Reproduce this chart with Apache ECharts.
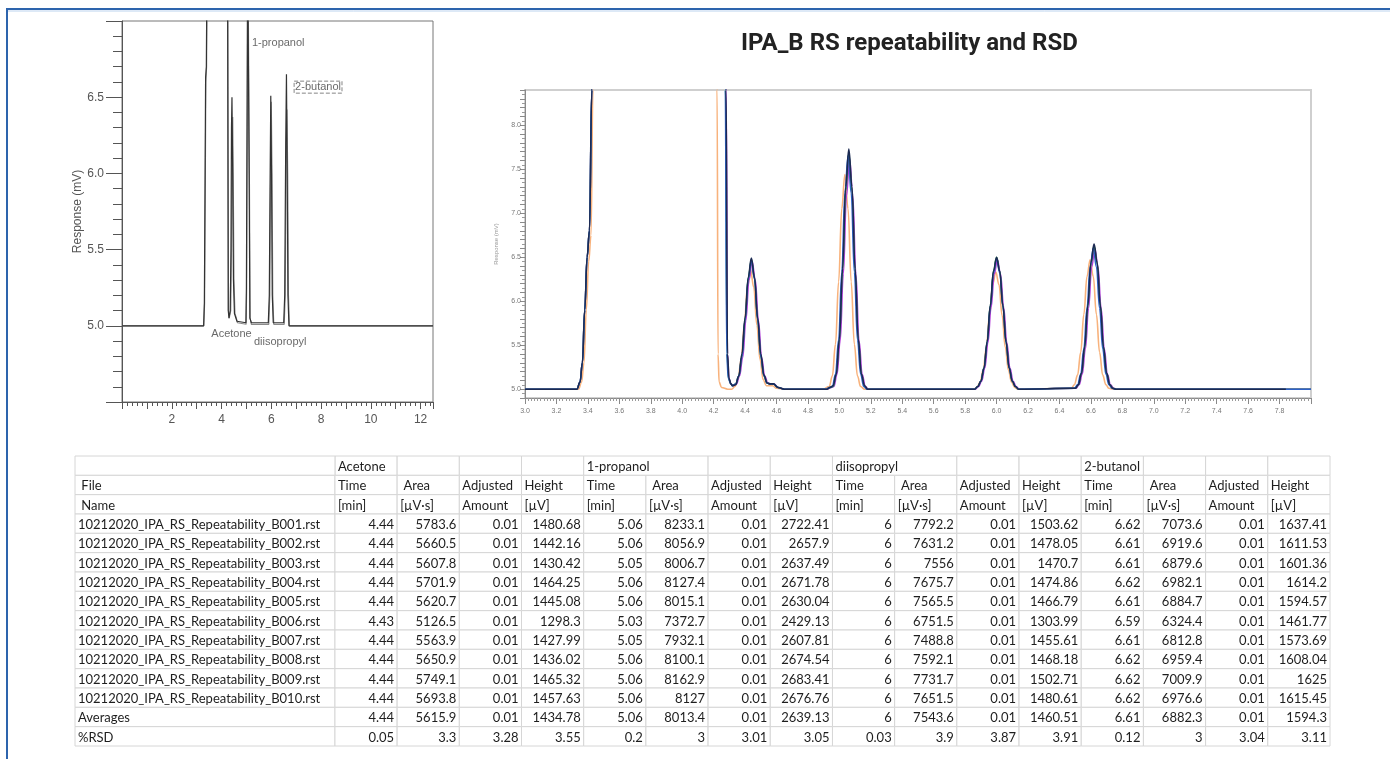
<!DOCTYPE html>
<html>
<head>
<meta charset="utf-8">
<title>IPA_B RS repeatability and RSD</title>
<script src="https://cdn.jsdelivr.net/npm/echarts@6/dist/echarts.min.js"></script>
<style>
  html, body { margin: 0; padding: 0; background: #fff; }
  #visualisation { width: 1390px; height: 759px; }
</style>
</head>
<body>
<div id="visualisation"></div>
<script>
// ---- overview chromatogram (left), two overlaid runs ----
const overviewA = [
  [0, 5.0], [3.28, 5.0], [3.31, 5.15], [3.34, 6.0], [3.36, 6.63], [3.39, 6.7], [3.42, 7.5],
  [4.24, 7.5], [4.27, 5.1], [4.3, 5.05], [4.35, 5.1], [4.38, 5.5], [4.4, 6.3], [4.42, 6.5],
  [4.45, 6.0], [4.48, 5.3], [4.52, 5.08], [4.56, 5.07], [4.62, 5.03], [4.7, 5.02],
  [4.98, 5.02], [5.0, 5.25], [5.03, 6.5], [5.05, 7.5], [5.09, 7.5], [5.11, 6.0], [5.14, 5.05],
  [5.2, 5.02], [5.88, 5.02], [5.92, 5.2], [5.95, 5.9], [5.98, 6.51], [6.01, 6.0], [6.04, 5.2],
  [6.08, 5.02], [6.5, 5.02], [6.54, 5.2], [6.58, 6.2], [6.61, 6.65], [6.64, 6.0], [6.67, 5.2],
  [6.71, 5.0], [12.5, 5.0]
];
const overviewB = [
  [0, 5.0], [3.29, 5.0], [3.32, 5.15], [3.35, 6.0], [3.37, 6.6], [3.4, 6.7], [3.43, 7.5],
  [4.25, 7.5], [4.28, 5.1], [4.31, 5.05], [4.37, 5.1], [4.4, 5.5], [4.43, 6.2], [4.45, 6.37],
  [4.47, 6.0], [4.5, 5.3], [4.54, 5.08], [4.58, 5.06], [4.64, 5.02], [4.7, 5.01],
  [4.99, 5.01], [5.01, 5.25], [5.04, 6.5], [5.06, 7.5], [5.1, 7.5], [5.12, 6.0], [5.15, 5.05],
  [5.2, 5.01], [5.9, 5.01], [5.94, 5.2], [5.97, 5.9], [6.0, 6.47], [6.03, 6.0], [6.06, 5.2],
  [6.1, 5.01], [6.52, 5.01], [6.56, 5.2], [6.6, 6.1], [6.63, 6.42], [6.66, 6.0], [6.69, 5.2],
  [6.73, 5.0], [12.5, 5.0]
];
const overviewLabels = [
  { name: '1-propanol', value: [6.28, 6.855] },
  { name: '2-butanol', value: [7.88, 6.566] },
  { name: 'Acetone', value: [4.4, 4.947] },
  { name: 'diisopropyl', value: [6.36, 4.895] }
];

// ---- zoomed overlay of the repeatability runs (right) ----
const runOrange = [
  [3.0, 5.0], [3.34, 5.0], [3.36, 5.08], [3.375, 5.3], [3.39, 5.9], [3.405, 6.45], [3.42, 6.75], [3.432, 8.4], [3.45, 9.6],
  [4.215, 9.6], [4.222, 8.4], [4.228, 5.4], [4.235, 5.08], [4.25, 5.02], [4.29, 5.0],
  [4.315, 5.0], [4.335, 5.03], [4.355, 5.11], [4.375, 5.34], [4.395, 5.73], [4.415, 6.16], [4.435, 6.35], [4.455, 6.16],
  [4.475, 5.73], [4.495, 5.34], [4.515, 5.11], [4.535, 5.04], [4.555, 5.04], [4.575, 5.04], [4.6, 5.01], [4.65, 5.0],
  [4.895, 5.0], [4.935, 5.03], [4.955, 5.15], [4.975, 5.51], [4.995, 6.22], [5.015, 7.05], [5.035, 7.44], [5.055, 7.05],
  [5.075, 6.22], [5.095, 5.51], [5.115, 5.15], [5.135, 5.03], [5.16, 5.0],
  [5.855, 5.0], [5.875, 5.02], [5.895, 5.08], [5.915, 5.22], [5.935, 5.48], [5.955, 5.84], [5.975, 6.19], [5.995, 6.33],
  [6.015, 6.19], [6.035, 5.84], [6.055, 5.48], [6.075, 5.22], [6.095, 5.08], [6.115, 5.02], [6.135, 5.0],
  [6.475, 5.01], [6.495, 5.05], [6.515, 5.16], [6.535, 5.42], [6.555, 5.85], [6.575, 6.28], [6.595, 6.47], [6.615, 6.28],
  [6.635, 5.85], [6.655, 5.42], [6.675, 5.16], [6.695, 5.05], [6.715, 5.01], [6.74, 5.0], [8.0, 5.0]
];
const runMagenta = [
  [3.0, 5.0], [3.33, 5.0], [3.35, 5.08], [3.365, 5.3], [3.38, 5.9], [3.395, 6.5], [3.41, 6.8], [3.425, 8.4], [3.44, 9.6],
  [4.272, 9.6], [4.28, 8.4], [4.288, 5.4], [4.298, 5.12], [4.31, 5.06],
  [4.325, 5.04], [4.345, 5.06], [4.365, 5.15], [4.385, 5.36], [4.405, 5.78], [4.425, 6.24], [4.445, 6.45], [4.465, 6.24],
  [4.485, 5.78], [4.505, 5.36], [4.525, 5.15], [4.545, 5.07], [4.565, 5.06], [4.585, 5.06], [4.61, 5.02], [4.65, 5.0],
  [4.925, 5.0], [4.945, 5.02], [4.965, 5.03], [4.985, 5.17], [5.005, 5.55], [5.025, 6.31], [5.045, 7.2], [5.065, 7.62],
  [5.085, 7.2], [5.105, 6.31], [5.125, 5.55], [5.145, 5.17], [5.165, 5.03], [5.185, 5.0],
  [5.865, 5.0], [5.885, 5.03], [5.905, 5.09], [5.925, 5.24], [5.945, 5.53], [5.965, 5.93], [5.985, 6.31], [6.005, 6.47],
  [6.025, 6.31], [6.045, 5.93], [6.065, 5.53], [6.085, 5.24], [6.105, 5.09], [6.125, 5.03], [6.145, 5.0],
  [6.505, 5.01], [6.525, 5.05], [6.545, 5.17], [6.565, 5.46], [6.585, 5.92], [6.605, 6.39], [6.625, 6.6], [6.645, 6.39],
  [6.665, 5.92], [6.685, 5.46], [6.705, 5.17], [6.725, 5.05], [6.745, 5.01], [6.765, 5.0], [8.0, 5.0]
];
const runGreen = [
  [3.0, 5.0], [3.33, 5.0], [3.35, 5.08], [3.365, 5.3], [3.38, 5.9], [3.395, 6.5], [3.41, 6.8], [3.425, 8.4], [3.44, 9.6],
  [4.268, 9.6], [4.276, 8.4], [4.285, 5.4], [4.295, 5.12], [4.31, 5.06],
  [4.32, 5.04], [4.34, 5.06], [4.36, 5.15], [4.38, 5.37], [4.4, 5.79], [4.42, 6.26], [4.44, 6.47], [4.46, 6.26],
  [4.48, 5.79], [4.5, 5.37], [4.52, 5.15], [4.54, 5.07], [4.56, 5.06], [4.58, 5.06], [4.61, 5.02], [4.65, 5.0],
  [4.92, 5.0], [4.94, 5.02], [4.96, 5.03], [4.98, 5.17], [5.0, 5.56], [5.02, 6.34], [5.04, 7.25], [5.06, 7.68],
  [5.08, 7.25], [5.1, 6.34], [5.12, 5.56], [5.14, 5.17], [5.16, 5.03], [5.18, 5.0],
  [5.86, 5.0], [5.88, 5.03], [5.9, 5.09], [5.92, 5.24], [5.94, 5.54], [5.96, 5.95], [5.98, 6.34], [6.0, 6.5],
  [6.02, 6.34], [6.04, 5.95], [6.06, 5.54], [6.08, 5.24], [6.1, 5.09], [6.12, 5.03], [6.14, 5.0],
  [6.5, 5.01], [6.52, 5.05], [6.54, 5.18], [6.56, 5.47], [6.58, 5.94], [6.6, 6.42], [6.62, 6.63], [6.64, 6.42],
  [6.66, 5.94], [6.68, 5.47], [6.7, 5.18], [6.72, 5.05], [6.74, 5.01], [6.76, 5.0], [8.0, 5.0]
];
const runBlue = [
  [3.0, 5.0], [3.33, 5.0], [3.35, 5.08], [3.365, 5.3], [3.38, 5.9], [3.395, 6.5], [3.41, 6.8], [3.425, 8.4], [3.44, 9.6],
  [4.266, 9.6], [4.274, 8.4], [4.283, 5.4], [4.293, 5.12], [4.31, 5.06],
  [4.32, 5.04], [4.34, 5.06], [4.36, 5.15], [4.38, 5.37], [4.4, 5.79], [4.42, 6.25], [4.44, 6.46], [4.46, 6.25],
  [4.48, 5.79], [4.5, 5.37], [4.52, 5.15], [4.54, 5.07], [4.56, 5.06], [4.58, 5.06], [4.61, 5.02], [4.65, 5.0],
  [4.915, 5.0], [4.935, 5.02], [4.955, 5.03], [4.975, 5.17], [4.995, 5.56], [5.015, 6.33], [5.035, 7.23], [5.055, 7.65],
  [5.075, 7.23], [5.095, 6.33], [5.115, 5.56], [5.135, 5.17], [5.155, 5.03], [5.175, 5.0],
  [5.86, 5.0], [5.88, 5.03], [5.9, 5.09], [5.92, 5.24], [5.94, 5.53], [5.96, 5.94], [5.98, 6.32], [6.0, 6.48],
  [6.02, 6.32], [6.04, 5.94], [6.06, 5.53], [6.08, 5.24], [6.1, 5.09], [6.12, 5.03], [6.14, 5.0],
  [6.495, 5.01], [6.515, 5.05], [6.535, 5.17], [6.555, 5.46], [6.575, 5.92], [6.595, 6.39], [6.615, 6.6], [6.635, 6.39],
  [6.655, 5.92], [6.675, 5.46], [6.695, 5.17], [6.715, 5.05], [6.735, 5.01], [6.755, 5.0], [8.0, 5.0]
];
const runNavy = [
  [3.0, 5.0], [3.33, 5.0], [3.35, 5.08], [3.365, 5.3], [3.38, 5.9], [3.395, 6.5], [3.41, 6.8], [3.425, 8.4], [3.44, 9.6],
  [4.27, 9.6], [4.279, 8.4], [4.288, 5.4], [4.298, 5.12], [4.31, 5.06],
  [4.32, 5.04], [4.34, 5.05], [4.36, 5.15], [4.38, 5.4], [4.4, 5.81], [4.42, 6.27], [4.44, 6.49], [4.46, 6.27],
  [4.48, 5.81], [4.5, 5.4], [4.52, 5.16], [4.54, 5.07], [4.56, 5.06], [4.58, 5.06], [4.61, 5.02], [4.65, 5.0],
  [4.92, 5.0], [4.94, 5.02], [4.96, 5.04], [4.98, 5.17], [5.0, 5.57], [5.02, 6.37], [5.04, 7.3], [5.06, 7.73],
  [5.08, 7.3], [5.1, 6.37], [5.12, 5.57], [5.14, 5.17], [5.16, 5.04], [5.18, 5.0],
  [5.86, 5.0], [5.88, 5.03], [5.9, 5.09], [5.92, 5.24], [5.94, 5.54], [5.96, 5.95], [5.98, 6.34], [6.0, 6.5],
  [6.02, 6.34], [6.04, 5.95], [6.06, 5.54], [6.08, 5.24], [6.1, 5.09], [6.12, 5.03], [6.14, 5.0],
  [6.5, 5.01], [6.52, 5.05], [6.54, 5.18], [6.56, 5.48], [6.58, 5.95], [6.6, 6.44], [6.62, 6.65], [6.64, 6.44],
  [6.66, 5.95], [6.68, 5.48], [6.7, 5.18], [6.72, 5.05], [6.74, 5.01], [6.76, 5.0], [7.84, 5.0]
];

// ---- results table ----
const compounds = ['Acetone', '1-propanol', 'diisopropyl', '2-butanol'];
const headerRow1 = ['Time', ' Area', 'Adjusted', 'Height'];
const headerRow2 = ['[min]', '[µV·s]', 'Amount', '[µV]'];
const fileNames = [
  '10212020_IPA_RS_Repeatability_B001.rst', '10212020_IPA_RS_Repeatability_B002.rst',
  '10212020_IPA_RS_Repeatability_B003.rst', '10212020_IPA_RS_Repeatability_B004.rst',
  '10212020_IPA_RS_Repeatability_B005.rst', '10212020_IPA_RS_Repeatability_B006.rst',
  '10212020_IPA_RS_Repeatability_B007.rst', '10212020_IPA_RS_Repeatability_B008.rst',
  '10212020_IPA_RS_Repeatability_B009.rst', '10212020_IPA_RS_Repeatability_B010.rst',
  'Averages', '%RSD'
];
// each: 10 runs, then Averages, then %RSD
const acetoneTime = [4.44, 4.44, 4.44, 4.44, 4.44, 4.43, 4.44, 4.44, 4.44, 4.44, 4.44, 0.05];
const acetoneArea = [5783.6, 5660.5, 5607.8, 5701.9, 5620.7, 5126.5, 5563.9, 5650.9, 5749.1, 5693.8, 5615.9, 3.3];
const acetoneAmount = [0.01, 0.01, 0.01, 0.01, 0.01, 0.01, 0.01, 0.01, 0.01, 0.01, 0.01, 3.28];
const acetoneHeight = [1480.68, 1442.16, 1430.42, 1464.25, 1445.08, 1298.3, 1427.99, 1436.02, 1465.32, 1457.63, 1434.78, 3.55];
const propanolTime = [5.06, 5.06, 5.05, 5.06, 5.06, 5.03, 5.05, 5.06, 5.06, 5.06, 5.06, 0.2];
const propanolArea = [8233.1, 8056.9, 8006.7, 8127.4, 8015.1, 7372.7, 7932.1, 8100.1, 8162.9, 8127, 8013.4, 3];
const propanolAmount = [0.01, 0.01, 0.01, 0.01, 0.01, 0.01, 0.01, 0.01, 0.01, 0.01, 0.01, 3.01];
const propanolHeight = [2722.41, 2657.9, 2637.49, 2671.78, 2630.04, 2429.13, 2607.81, 2674.54, 2683.41, 2676.76, 2639.13, 3.05];
const diisoTime = [6, 6, 6, 6, 6, 6, 6, 6, 6, 6, 6, 0.03];
const diisoArea = [7792.2, 7631.2, 7556, 7675.7, 7565.5, 6751.5, 7488.8, 7592.1, 7731.7, 7651.5, 7543.6, 3.9];
const diisoAmount = [0.01, 0.01, 0.01, 0.01, 0.01, 0.01, 0.01, 0.01, 0.01, 0.01, 0.01, 3.87];
const diisoHeight = [1503.62, 1478.05, 1470.7, 1474.86, 1466.79, 1303.99, 1455.61, 1468.18, 1502.71, 1480.61, 1460.51, 3.91];
const butanolTime = [6.62, 6.61, 6.61, 6.62, 6.61, 6.59, 6.61, 6.62, 6.62, 6.62, 6.61, 0.12];
const butanolArea = [7073.6, 6919.6, 6879.6, 6982.1, 6884.7, 6324.4, 6812.8, 6959.4, 7009.9, 6976.6, 6882.3, 3];
const butanolAmount = [0.01, 0.01, 0.01, 0.01, 0.01, 0.01, 0.01, 0.01, 0.01, 0.01, 0.01, 3.04];
const butanolHeight = [1637.41, 1611.53, 1601.36, 1614.2, 1594.57, 1461.77, 1573.69, 1608.04, 1625, 1615.45, 1594.3, 3.11];

const tableColumns = [
  acetoneTime, acetoneArea, acetoneAmount, acetoneHeight,
  propanolTime, propanolArea, propanolAmount, propanolHeight,
  diisoTime, diisoArea, diisoAmount, diisoHeight,
  butanolTime, butanolArea, butanolAmount, butanolHeight
];

function drawVisualisation() {
  let visualisation = echarts.init(document.getElementById('visualisation'));

  // file-name column is wider than the numeric ones (in column units)
  const FIRST_W = 4.18;
  const cells = [];
  // header row 0: compound names (long names spill into next cell, like Excel)
  let c = 0;
  while (c < 16) {
    const k = c / 4;
    if (c % 4 === 0) {
      const span = (k === 1 || k === 2) ? 2 : 1;
      cells.push({ x: FIRST_W + c, row: 0, span: span, text: compounds[k], align: 'left' });
      c += span;
    } else {
      cells.push({ x: FIRST_W + c, row: 0, span: 1, text: '', align: 'left' });
      c += 1;
    }
  }
  cells.push({ x: 0, row: 0, span: FIRST_W, text: '', align: 'left' });
  cells.push({ x: 0, row: 1, span: FIRST_W, text: ' File', align: 'left' });
  cells.push({ x: 0, row: 2, span: FIRST_W, text: ' Name', align: 'left' });
  for (let j = 0; j < 16; j++) {
    cells.push({ x: FIRST_W + j, row: 1, span: 1, text: headerRow1[j % 4], align: 'left' });
    cells.push({ x: FIRST_W + j, row: 2, span: 1, text: headerRow2[j % 4], align: 'left' });
  }
  fileNames.forEach((name, i) => {
    cells.push({ x: 0, row: 3 + i, span: FIRST_W, text: name, align: 'left' });
    tableColumns.forEach((col, j) => {
      cells.push({ x: FIRST_W + j, row: 3 + i, span: 1, text: String(col[i]), align: 'right' });
    });
  });

  const lineSeries = (data, color, width) => ({
    type: 'line', xAxisIndex: 1, yAxisIndex: 1, data: data,
    showSymbol: false, smooth: 0.4, smoothMonotone: 'x',
    lineStyle: { color: color, width: width }, silent: true
  });

  let option = {
    animation: false,
    title: {
      text: 'IPA_B RS repeatability and RSD',
      left: 736, top: 27,
      textStyle: { fontFamily: 'Roboto', fontWeight: 'bold', fontSize: 24, color: '#222' }
    },
    graphic: [
      { type: 'polyline', shape: { points: [[7, 759], [7, 9], [1390, 9]] }, style: { stroke: '#2d64ad', lineWidth: 2, fill: null } },
      { type: 'line', shape: { x1: 8, y1: 11, x2: 1390, y2: 11 }, style: { stroke: '#bcd3ee', lineWidth: 1 } }
    ],
    grid: [
      { left: 122, top: 21, width: 311, height: 381, show: true, borderColor: '#777', borderWidth: 1 },
      { left: 525, top: 90, width: 786, height: 308, show: true, borderColor: '#cfcfcf', borderWidth: 2 },
      { left: 75, top: 456, width: 1255, height: 290 }
    ],
    xAxis: [
      {
        gridIndex: 0, type: 'value', min: 0, max: 12.5, interval: 1,
        axisLine: { lineStyle: { color: '#555' } },
        axisTick: { length: 7, lineStyle: { color: '#555' } },
        minorTick: { show: true, splitNumber: 5, length: 4, lineStyle: { color: '#555' } },
        splitLine: { show: false },
        axisLabel: {
          showMaxLabel: false, margin: 12, color: '#555', fontSize: 12, fontFamily: 'Liberation Sans',
          formatter: v => (v > 0 && v % 2 === 0) ? String(v) : ''
        }
      },
      {
        gridIndex: 1, type: 'value', min: 3.0, max: 8.0, interval: 0.2,
        axisLine: { lineStyle: { color: '#8a8a8a' } },
        axisTick: { length: 6, lineStyle: { color: '#8a8a8a' } },
        minorTick: { show: true, splitNumber: 10, length: 3, lineStyle: { color: '#9a9a9a' } },
        splitLine: { show: false },
        axisLabel: {
          showMaxLabel: false, margin: 10, color: '#777', fontSize: 7, fontFamily: 'Liberation Sans',
          formatter: v => v.toFixed(1)
        }
      },
      { gridIndex: 2, type: 'value', min: 0, max: FIRST_W + 16, show: false }
    ],
    yAxis: [
      {
        gridIndex: 0, type: 'value', min: 4.5, max: 7.0, interval: 0.5,
        name: 'Response (mV)', nameLocation: 'middle', nameGap: 36,
        nameTextStyle: { color: '#555', fontSize: 12, fontFamily: 'Liberation Sans' },
        axisLine: { lineStyle: { color: '#555' } },
        axisTick: { length: 16, lineStyle: { color: '#555' } },
        minorTick: { show: true, splitNumber: 5, length: 9, lineStyle: { color: '#555' } },
        splitLine: { show: false },
        axisLabel: {
          showMinLabel: false, showMaxLabel: false, margin: 18, color: '#555', fontSize: 12,
          fontFamily: 'Liberation Sans', formatter: v => v.toFixed(1)
        }
      },
      {
        gridIndex: 1, type: 'value', min: 4.9, max: 8.4, interval: 0.1,
        name: 'Response (mV)', nameLocation: 'middle', nameGap: 26,
        nameTextStyle: { color: '#999', fontSize: 6, fontFamily: 'Liberation Sans' },
        axisLine: { lineStyle: { color: '#8a8a8a' } },
        axisTick: { length: 5, lineStyle: { color: '#8a8a8a' } },
        minorTick: { show: true, splitNumber: 2, length: 3, lineStyle: { color: '#9a9a9a' } },
        splitLine: { show: false },
        axisLabel: {
          margin: 4, color: '#777', fontSize: 7, fontFamily: 'Liberation Sans',
          formatter: v => {
            const t = Math.round(v * 10);
            return t % 5 === 0 ? (t / 10).toFixed(1) : '';
          }
        }
      },
      { gridIndex: 2, type: 'value', min: 0, max: 15, inverse: true, show: false }
    ],
    series: [
      {
        type: 'line', xAxisIndex: 0, yAxisIndex: 0, data: overviewB, showSymbol: false,
        lineStyle: { color: '#8a8a8a', width: 1.2 }, silent: true
      },
      {
        type: 'line', xAxisIndex: 0, yAxisIndex: 0, data: overviewA, showSymbol: false,
        lineStyle: { color: '#333', width: 1.2 }, silent: true
      },
      {
        type: 'scatter', xAxisIndex: 0, yAxisIndex: 0, symbolSize: 0, silent: true,
        data: overviewLabels.map(d => ({
          name: d.name, value: d.value,
          label: d.name === '2-butanol'
            ? { borderType: 'dashed', borderColor: '#666', borderWidth: 1, padding: [1, 1, 0, 1] }
            : {}
        })),
        label: {
          show: true, position: 'inside', formatter: '{b}',
          color: '#444', fontSize: 11, fontFamily: 'Liberation Sans'
        }
      },
      lineSeries(runOrange, '#f8b27c', 1.6),
      lineSeries(runMagenta, '#b03ad8', 1.5),
      lineSeries(runGreen, '#2e9a55', 1.5),
      lineSeries(runBlue, '#2f62c8', 1.5),
      lineSeries(runNavy, '#1c2a52', 1.6),
      {
        type: 'custom', xAxisIndex: 2, yAxisIndex: 2, silent: true, clip: false,
        data: cells.map(cell => [cell.x, cell.row]),
        renderItem: (params, api) => {
          const cell = cells[params.dataIndex];
          const p0 = api.coord([cell.x, cell.row]);
          const p1 = api.coord([cell.x + cell.span, cell.row + 1]);
          return {
            type: 'group',
            children: [
              {
                type: 'rect',
                shape: { x: p0[0], y: p0[1], width: p1[0] - p0[0], height: p1[1] - p0[1] },
                style: { fill: '#fff', stroke: '#d6d6d6', lineWidth: 1 }
              },
              {
                type: 'text',
                style: {
                  text: cell.text,
                  x: cell.align === 'right' ? p1[0] - 3 : p0[0] + 3,
                  y: (p0[1] + p1[1]) / 2 + 1,
                  align: cell.align, verticalAlign: 'middle',
                  fontFamily: 'Lato', fontSize: 13, fill: '#1e1e1e'
                }
              }
            ]
          };
        }
      }
    ]
  };

  visualisation.setOption(option);
}

window.addEventListener('load', drawVisualisation);
</script>
</body>
</html>
